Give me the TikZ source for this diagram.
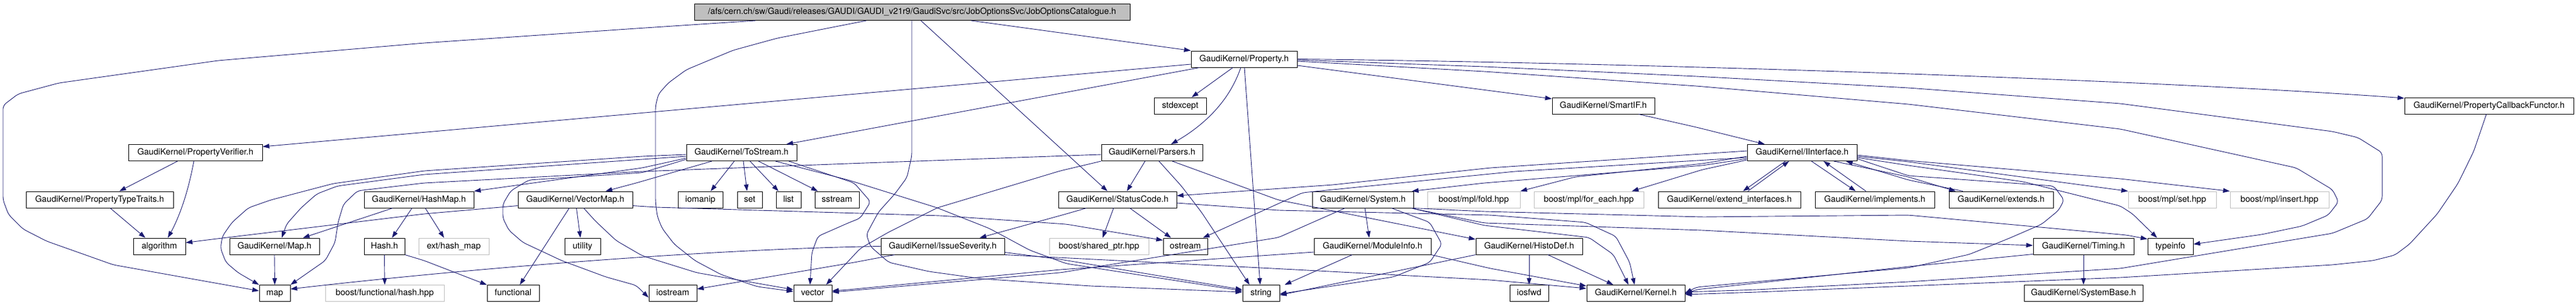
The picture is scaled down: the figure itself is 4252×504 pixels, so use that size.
\documentclass[tikz,border=0pt]{standalone}
\usepackage{fontspec}
\setmainfont{TeX Gyre Heros}
\usetikzlibrary{arrows.meta}
\definecolor{edgecol}{HTML}{191970}
\definecolor{graybd}{HTML}{BFBFBF}
\begin{document}
\begin{tikzpicture}[x=1pt,y=-1pt,
  box/.style={draw=black, line width=1pt, minimum height=27pt, inner sep=0pt, text height=10pt, text depth=3pt, font=\fontsize{14.2}{16}\selectfont, anchor=center},
  gbox/.style={box, draw=graybd},
  rootbox/.style={box, fill=graybd},
  edge/.style={draw=edgecol, line width=0.9pt, -{Triangle[length=11pt,width=7.5pt]}, rounded corners=6pt},
]
\useasboundingbox (0,0) rectangle (4252,504);
% row 0
\node[rootbox, minimum width=719pt] (root) at (1505.5,20) {/afs/cern.ch/sw/Gaudi/releases/GAUDI/GAUDI\_v21r9/GaudiSvc/src/JobOptionsSvc/JobOptionsCatalogue.h};
% row 1
\node[box, minimum width=175pt] (prop) at (2053.5,97.5) {GaudiKernel/Property.h};
% row 2
\node[box, minimum width=86pt] (stdexcept) at (1948,174.5) {stdexcept};
\node[box, minimum width=169pt] (smartif) at (2646.5,174.5) {GaudiKernel/SmartIF.h};
\node[box, minimum width=279pt] (pcf) at (4108.5,174.5) {GaudiKernel/PropertyCallbackFunctor.h};
% row 3
\node[box, minimum width=221pt] (pverif) at (322.5,252) {GaudiKernel/PropertyVerifier.h};
\node[box, minimum width=182pt] (tostream) at (1224,252) {GaudiKernel/ToStream.h};
\node[box, minimum width=167pt] (parsers) at (1901.5,252) {GaudiKernel/Parsers.h};
\node[box, minimum width=181pt] (iinterface) at (2974.5,252) {GaudiKernel/IInterface.h};
% row 4
\node[box, minimum width=243pt] (ptt) at (164.5,329.5) {GaudiKernel/PropertyTypeTraits.h};
\node[box, minimum width=181pt] (hashmap) at (691.5,329.5) {GaudiKernel/HashMap.h};
\node[box, minimum width=189pt] (vectormap) at (949.5,329.5) {GaudiKernel/VectorMap.h};
\node[box, minimum width=74pt] (iomanip) at (1156,329.5) {iomanip};
\node[box, minimum width=41pt] (set) at (1237.5,329.5) {set};
\node[box, minimum width=41pt] (list) at (1301.5,329.5) {list};
\node[box, minimum width=73pt] (sstream) at (1381.5,329.5) {sstream};
\node[box, minimum width=195pt] (statuscode) at (1844.5,329.5) {GaudiKernel/StatusCode.h};
\node[box, minimum width=167pt] (system) at (2249.5,329.5) {GaudiKernel/System.h};
\node[gbox, minimum width=153pt] (fold) at (2432.5,329.5) {boost/mpl/fold.hpp};
\node[gbox, minimum width=181pt] (foreach) at (2622.5,329.5) {boost/mpl/for\_each.hpp};
\node[box, minimum width=235pt] (extint) at (2854.5,329.5) {GaudiKernel/extend\_interfaces.h};
\node[box, minimum width=197pt] (implements) at (3094.5,329.5) {GaudiKernel/implements.h};
\node[box, minimum width=172pt] (extends) at (3303,329.5) {GaudiKernel/extends.h};
\node[gbox, minimum width=145pt] (mplset) at (3585.5,329.5) {boost/mpl/set.hpp};
\node[gbox, minimum width=163pt] (insert) at (3762.5,329.5) {boost/mpl/insert.hpp};
% row 5
\node[box, minimum width=86pt] (algorithm) at (263,406.5) {algorithm};
\node[box, minimum width=148pt] (maph) at (453,406.5) {GaudiKernel/Map.h};
\node[box, minimum width=67pt] (hash) at (634.5,406.5) {Hash.h};
\node[gbox, minimum width=116pt] (exthash) at (749,406.5) {ext/hash\_map};
\node[box, minimum width=59pt] (utility) at (961.5,406.5) {utility};
\node[box, minimum width=204pt] (issue) at (1556,406.5) {GaudiKernel/IssueSeverity.h};
\node[gbox, minimum width=164pt] (sharedptr) at (1814,406.5) {boost/shared\_ptr.hpp};
\node[box, minimum width=73pt] (ostream) at (1956.5,406.5) {ostream};
\node[box, minimum width=193pt] (moduleinfo) at (2265.5,406.5) {GaudiKernel/ModuleInfo.h};
\node[box, minimum width=176pt] (histodef) at (2524,406.5) {GaudiKernel/HistoDef.h};
\node[box, minimum width=166pt] (timing) at (3439,406.5) {GaudiKernel/Timing.h};
\node[box, minimum width=75pt] (typeinfo) at (3582.5,406.5) {typeinfo};
% row 6
\node[box, minimum width=51pt] (map) at (453.5,484) {map};
\node[gbox, minimum width=196pt] (boosthash) at (635,484) {boost/functional/hash.hpp};
\node[box, minimum width=86pt] (functional) at (847,484) {functional};
\node[box, minimum width=79pt] (iostream) at (1110.5,484) {iostream};
\node[box, minimum width=63pt] (vector) at (1341.5,484) {vector};
\node[box, minimum width=61pt] (string) at (2081.5,484) {string};
\node[box, minimum width=64pt] (iosfwd) at (2524,484) {iosfwd};
\node[box, minimum width=162pt] (kernel) at (2700,484) {GaudiKernel/Kernel.h};
\node[box, minimum width=196pt] (sysbase) at (3439,484) {GaudiKernel/SystemBase.h};

% ---- edges from root
\draw[edge] ([xshift=-258.5pt]root.south) -- (1050,47) -- (700,71) -- (360,100) -- (97,137) -- (30,155) -- (5,174) -- (5,330) -- (14,354) -- (38,378) -- (77,398) -- (187,437) -- ([yshift=4pt]map.west);
\draw[edge] ([xshift=-75.5pt]root.south) -- (1283,63) -- (1210,83) -- (1133,115) -- (1103,137) -- (1087,155) -- (1082,175) -- (1082,333) -- (1085,357) -- (1093,377) -- (1113,403) -- (1147,430) -- (1190,453) -- (1250,473) -- ([yshift=3pt]vector.west);
\draw[edge] ([xshift=-0.5pt]root.south) -- (1505,257) -- (1497,293) -- (1477,320) -- (1450,350) -- (1430,387) -- (1437,407) -- (1467,433) -- (1533,448) -- (1620,460) -- (1800,472) -- ([yshift=2pt]string.west);
\draw[edge] ([xshift=14.5pt]root.south) -- ([xshift=-16.5pt]statuscode.north);
\draw[edge] ([xshift=97.5pt]root.south) -- (prop.north west);
% ---- Property.h
\draw[edge] ([yshift=-8.5pt]prop.west) -- ([yshift=10pt]pverif.east);
\draw[edge] ([xshift=-73.5pt]prop.south) -- ([xshift=74pt]tostream.north);
\draw[edge] ([xshift=-18.5pt]prop.south) -- ([xshift=19pt]stdexcept.north);
\draw[edge] ([xshift=-5.5pt]prop.south) .. controls (2030,165) and (1990,205) .. ([xshift=31.5pt]parsers.north);
\draw[edge] ([xshift=0.5pt]prop.south) -- ([xshift=-1.5pt]string.north);
\draw[edge] ([yshift=-10.5pt]prop.east) -- ([yshift=11.5pt]smartif.west);
\draw[edge] (prop.east) .. controls (2800,105) and (3600,135) .. ([yshift=12.5pt]pcf.west);
\draw[edge] ([yshift=-3.5pt]prop.east) -- (2450,118) -- (2800,142) -- (3150,172) -- (3500,213) -- (3790,277) -- (3850,313) -- (3860,333) -- (3843,355) -- (3800,373) -- (3733,387) -- ([yshift=3.5pt]typeinfo.east);
\draw[edge] ([yshift=-1.5pt]prop.east) -- (2450,110) -- (2800,126) -- (3150,145) -- (3500,171) -- (3850,217) -- (3892,227) -- (3932,252) -- (3932,330) -- (3908,361) -- (3850,385) -- (3500,443) -- (3150,465) -- (2900,478) -- ([yshift=2pt]kernel.east);
\draw[edge] ([xshift=-4.5pt]pcf.south) -- (4083,250) -- (4057,303) -- (4023,353) -- (3977,403) -- (3953,421) -- (3917,430) -- (3850,437) -- (3500,458) -- (3150,472) -- (2900,482) -- ([yshift=-2pt]kernel.east);
\draw[edge] ([xshift=58.5pt]smartif.south) -- (2800,210) -- ([xshift=-61.5pt]iinterface.north);
% ---- PropertyVerifier / TypeTraits
\draw[edge] ([xshift=-29.5pt]pverif.south) -- ([xshift=32.5pt]ptt.north);
\draw[edge] ([xshift=-2.5pt]pverif.south) .. controls (310,320) and (295,360) .. ([xshift=14pt]algorithm.north);
\draw[edge] ([xshift=17.5pt]ptt.south) -- ([xshift=-23pt]algorithm.north);
% ---- ToStream
\draw[edge] ([xshift=-12pt]tostream.south) -- ([xshift=17pt]iomanip.north);
\draw[edge] ([xshift=3pt]tostream.south) -- ([xshift=-4.5pt]set.north);
\draw[edge] ([xshift=14pt]tostream.south) -- ([xshift=-16.5pt]list.north);
\draw[edge] ([xshift=28pt]tostream.south) -- ([xshift=-31.5pt]sstream.north);
\draw[edge] ([yshift=-3pt]tostream.west) -- (1060,258) -- (700,282) -- (550,303) -- (447,330) -- (410,343) -- (383,367) -- (367,390) -- (364,410) -- (373,433) -- (393,450) -- (map.north west);
\draw[edge] ([yshift=-6pt]tostream.west) -- (1060,263) -- (700,288) -- (557,307) -- (523,320) -- (497,343) -- (473,370) -- ([xshift=12pt]maph.north);
\draw[edge] ([yshift=-9pt]tostream.west) -- (1060,277) -- (hashmap.north east);
\draw[edge] ([xshift=-49pt]tostream.south) -- (1050,302) -- ([xshift=50pt]vectormap.north);
\draw[edge] ([yshift=-11pt]tostream.west) -- (1060,285) -- (873,297) -- (843,315) -- (830,337) -- (830,360) -- (840,380) -- (863,400) -- (927,430) -- (1000,457) -- (1050,471) -- ([yshift=-7pt]iostream.west);
\draw[edge] ([xshift=78pt]tostream.south) -- (1410,302) -- (1437,333) -- (1420,360) -- (1400,368) -- (1350,390) -- (1340,417) -- ([xshift=-4.5pt]vector.north);
\draw[edge] ([xshift=56pt]tostream.south) -- (1400,297) -- (1547,343) -- (1633,377) -- (1700,413) -- (1760,435) -- ([yshift=4pt]string.west);
% ---- Parsers
\draw[edge] ([yshift=-3pt]parsers.west) -- (1400,270) -- (1060,283) -- (700,302) -- (590,315) -- (567,337) -- (558,367) -- (553,400) -- (537,430) -- (map.north east);
\draw[edge] ([xshift=-11.5pt]parsers.south) -- ([xshift=15.5pt]statuscode.north);
\draw[edge] (parsers.south west) -- (1750,282) -- (1547,343) -- (1467,383) -- (1420,410) -- ([xshift=-10pt]vector.north east);
\draw[edge] ([xshift=11.5pt]parsers.south) -- (1950,307) -- (1983,350) -- ([xshift=12pt]string.north west);
\draw[edge] ([xshift=33.5pt]parsers.south) -- (2110,330) -- ([yshift=11.5pt]histodef.west);
% ---- StatusCode
\draw[edge] ([xshift=-51.5pt]statuscode.south) -- (1760,353) -- ([xshift=61pt]issue.north);
\draw[edge] ([xshift=-6.5pt]statuscode.south) -- ([xshift=6pt]sharedptr.north);
\draw[edge] ([xshift=20.5pt]statuscode.south) -- ([xshift=-23.5pt]ostream.north);
\draw[edge] ([yshift=-5.5pt]statuscode.east) -- (2110,347) -- (2460,355) -- (2617,367) -- (2667,390) -- (2690,433) -- ([xshift=-2pt]kernel.north);
% ---- IInterface
\draw[edge] ([yshift=3pt]iinterface.west) -- (2460,277) -- (2200,305) -- ([yshift=6.5pt]statuscode.east);
\draw[edge] ([yshift=-10pt]iinterface.west) -- (2810,273) -- (2450,302) -- ([xshift=-3pt]system.north east);
\draw[edge] ([yshift=-6pt]iinterface.west) -- (2810,270) -- (2600,292) -- (fold.north east);
\draw[edge] ([yshift=-12pt]iinterface.west) -- (2810,280) -- ([xshift=-20pt]foreach.north east);
\draw[edge] ([yshift=-8pt]iinterface.west) -- (2500,283) -- (2150,318) -- ([xshift=-8pt]ostream.north east);
\draw[edge] ([xshift=-27.5pt]iinterface.south) -- ([xshift=22.5pt]extint.north);
\draw[edge] ([xshift=30.5pt]extint.north) -- ([xshift=-21.5pt]iinterface.south);
\draw[edge] ([xshift=15.5pt]iinterface.south) -- ([xshift=-31.5pt]implements.north);
\draw[edge] ([xshift=-14.5pt]implements.north) -- ([xshift=35.5pt]iinterface.south);
\draw[edge] ([xshift=52.5pt]iinterface.south) -- (3150,292) -- ([xshift=-75pt]extends.north);
\draw[edge] ([xshift=-63pt]extends.north) -- (3150,297) -- ([xshift=72.5pt]iinterface.south);
\draw[edge] ([yshift=-6pt]iinterface.east) -- (3150,267) -- (mplset.north west);
\draw[edge] ([yshift=-4pt]iinterface.east) -- (3150,265) -- (3500,295) -- (insert.north west);
\draw[edge] ([yshift=-8pt]iinterface.east) -- (3150,273) -- (3340,300) -- (3500,340) -- (3520,353) -- ([xshift=-22pt]typeinfo.north);
\draw[edge] ([yshift=-10pt]iinterface.east) -- (3150,290) -- (3390,307) -- (3407,330) -- (3398,347) -- (3370,370) -- (3317,393) -- (3250,420) -- (3150,442) -- (2800,474) -- (kernel.east);
% ---- System
\draw[edge] ([xshift=3.5pt]system.south) -- ([xshift=-5.5pt]moduleinfo.north);
\draw[edge] ([xshift=47.5pt]system.south) -- (2360,367) -- (2380,403) -- (2360,433) -- (2300,457) -- ([yshift=-1pt]string.east);
\draw[edge] ([xshift=-29.5pt]system.south) -- (2110,392) -- (1750,450) -- (1400,480) -- ([yshift=2pt]vector.east);
\draw[edge] ([yshift=-1pt]system.south east) -- (2450,368) -- (2810,380) -- (3150,398) -- ([yshift=1.5pt]timing.west);
\draw[edge] (system.south east) -- (2450,349) -- (2810,358) -- (3150,355) -- (3510,388) -- ([yshift=12pt]typeinfo.west);
\draw[edge] ([xshift=-4pt]system.south east) -- (2450,372) -- (2623,392) -- (2663,420) -- ([xshift=-12pt]kernel.north);
% ---- ModuleInfo / HistoDef
\draw[edge] ([xshift=-33.5pt]moduleinfo.south) -- ([xshift=8pt]string.north east);
\draw[edge] (moduleinfo.south east) -- (2460,443) -- ([yshift=12pt]kernel.west);
\draw[edge] ([yshift=-9.5pt]moduleinfo.west) -- (1750,445) -- (1400,478) -- ([yshift=4pt]vector.east);
\draw[edge] (histodef.south) -- (iosfwd.north);
\draw[edge] ([xshift=31pt]histodef.south) -- ([xshift=-37pt]kernel.north);
\draw[edge] (histodef.south west) -- ([yshift=-3pt]string.east);
% ---- IssueSeverity
\draw[edge] (issue.west) .. controls (1200,410) and (800,440) .. ([yshift=7pt]map.east);
\draw[edge] ([xshift=23pt]issue.south west) -- (1410,433) -- ([yshift=7pt]iostream.east);
\draw[edge] ([yshift=-10pt]issue.east) -- (1750,428) -- ([yshift=6pt]string.west);
\draw[edge] (issue.south east) -- (2100,443) -- (2460,462) -- ([yshift=8pt]kernel.west);
% ---- Timing
\draw[edge] (timing.south) -- (sysbase.north);
\draw[edge] ([yshift=-13pt]timing.west) -- (3150,440) -- (2800,478) -- ([yshift=-1pt]kernel.east);
% ---- VectorMap / HashMap / Hash / Map
\draw[edge] ([yshift=-10pt]vectormap.west) -- (700,353) -- (350,395) -- ([yshift=6pt]algorithm.east);
\draw[edge] ([xshift=2pt]vectormap.south) -- ([xshift=-3.5pt]utility.north);
\draw[edge] ([xshift=-10pt]vectormap.south) -- ([xshift=11pt]functional.north);
\draw[edge] ([xshift=14pt]vectormap.south) -- (983,365) -- (1017,397) -- (1060,422) -- (1150,450) -- ([yshift=6pt]vector.west);
\draw[edge] ([yshift=-10pt]vectormap.east) -- (1083,342) -- (1553,356) -- (1760,370) -- ([yshift=10pt]ostream.west);
\draw[edge] ([xshift=-43.5pt]hashmap.south) -- ([xshift=47pt]maph.north);
\draw[edge] ([xshift=-11.5pt]hashmap.south) -- ([xshift=12.5pt]hash.north);
\draw[edge] ([xshift=10.5pt]hashmap.south) -- ([xshift=-16pt]exthash.north);
\draw[edge] (hash.south) -- (boosthash.north);
\draw[edge] (hash.south east) -- (700,430) -- (functional.north west);
\draw[edge] (maph.south) -- (map.north);
\end{tikzpicture}
\end{document}
